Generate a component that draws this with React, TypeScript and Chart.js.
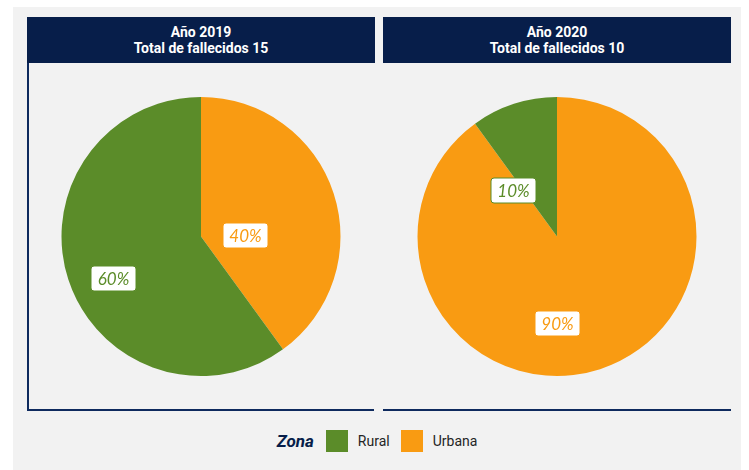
import React, { useEffect, useRef } from "react";
import { Chart, registerables } from "chart.js";

Chart.register(...registerables);

const years = ["2019", "2020"];
const totals = [15, 10];
const zones = ["Rural", "Urbana"];
const ruralCounts = [9, 1];
const urbanaCounts = [6, 9];
const zoneColors = ["#5b8c29", "#f99b12"];

const NAVY = "#071e4a";
const LINE = "#0e2a5e";
const BG = "#f2f2f2";

// label box is anchored left/below of the arc's centre point
const LABEL_DX = -22;
const LABEL_DY = 20;

const labelPlugin = {
  id: "pctLabels",
  afterDatasetsDraw(chart: any) {
    const ctx = chart.ctx;
    const meta = chart.getDatasetMeta(0);
    const ds = chart.data.datasets[0];
    const sum = ds.data.reduce((a: number, b: number) => a + b, 0);
    meta.data.forEach((arc: any, i: number) => {
      const v = ds.data[i];
      if (!v) return;
      const pct = Math.round((v / sum) * 100) + "%";
      const c = arc.getCenterPoint();
      const px = Math.round(c.x + LABEL_DX);
      const py = Math.round(c.y + LABEL_DY);
      const color = ds.backgroundColor[i];
      ctx.save();
      ctx.font = "italic 17px Lato";
      const w = 45;
      const h = 25;
      const x = px - w / 2;
      const y = py - h / 2;
      ctx.beginPath();
      (ctx as any).roundRect(x + 0.5, y + 0.5, w, h, 3);
      ctx.fillStyle = "#ffffff";
      ctx.fill();
      ctx.strokeStyle = color;
      ctx.lineWidth = 1;
      ctx.stroke();
      ctx.fillStyle = color;
      ctx.textAlign = "center";
      ctx.textBaseline = "middle";
      ctx.fillText(pct, px + 0.5, py + 1.5);
      ctx.restore();
    });
  },
};

function Pie({ idx }: { idx: number }) {
  const ref = useRef<HTMLCanvasElement>(null);
  useEffect(() => {
    if (!ref.current) return;
    // Urbana first so it starts at the top going clockwise
    const data = [urbanaCounts[idx], ruralCounts[idx]];
    const colors = [zoneColors[1], zoneColors[0]];
    const chart = new Chart(ref.current, {
      type: "pie",
      data: {
        labels: [zones[1], zones[0]],
        datasets: [
          {
            data,
            backgroundColor: colors,
            borderWidth: 0,
          },
        ],
      },
      options: {
        animation: false,
        responsive: false,
        maintainAspectRatio: false,
        layout: { padding: 34 },
        plugins: { legend: { display: false }, tooltip: { enabled: false } },
      },
      plugins: [labelPlugin],
    });
    return () => chart.destroy();
  }, [idx]);
  return <canvas ref={ref} width={348} height={347} style={{ display: "block", width: 348, height: 347 }} />;
}

function Panel({ idx, left, showLeftLine }: { idx: number; left: number; showLeftLine: boolean }) {
  return (
    <div style={{ position: "absolute", left, top: 10, width: 348 }}>
      <div
        style={{
          background: NAVY,
          color: "#fff",
          height: 46,
          display: "flex",
          flexDirection: "column",
          justifyContent: "center",
          alignItems: "center",
          fontFamily: "Roboto",
          fontWeight: 700,
          fontSize: 14,
          lineHeight: "16px",
        }}
      >
        <div>Año {years[idx]}</div>
        <div>Total de fallecidos {totals[idx]}</div>
      </div>
      <div style={{ position: "relative", height: 347 }}>
        <Pie idx={idx} />
        {showLeftLine && (
          <div style={{ position: "absolute", left: 0, top: 0, width: 2, height: 348, background: LINE }} />
        )}
        <div style={{ position: "absolute", left: 0, top: 346, width: idx === 0 ? 347 : 348, height: 2, background: LINE }} />
      </div>
    </div>
  );
}

export default function App() {
  return (
    <div
      style={{
        position: "fixed",
        left: 13,
        top: 7,
        width: 728,
        height: 463,
        background: BG,
        overflow: "hidden",
      }}
    >
      <Panel idx={0} left={14} showLeftLine={true} />
      <Panel idx={1} left={370} showLeftLine={false} />
      <div
        style={{
          position: "absolute",
          left: 0,
          top: 423,
          width: 728,
          height: 22,
          display: "flex",
          justifyContent: "center",
          alignItems: "center",
          fontFamily: "Roboto",
        }}
      >
        <span style={{ color: NAVY, fontWeight: 700, fontStyle: "italic", fontSize: 17, marginRight: 12 }}>Zona</span>
        {zones.map((z, i) => (
          <span key={z} style={{ display: "flex", alignItems: "center", marginRight: i === 0 ? 11 : 0 }}>
            <span style={{ width: 22, height: 22, background: zoneColors[i], display: "inline-block", marginRight: 10 }} />
            <span style={{ fontSize: 14, color: "#252525" }}>{z}</span>
          </span>
        ))}
      </div>
    </div>
  );
}
